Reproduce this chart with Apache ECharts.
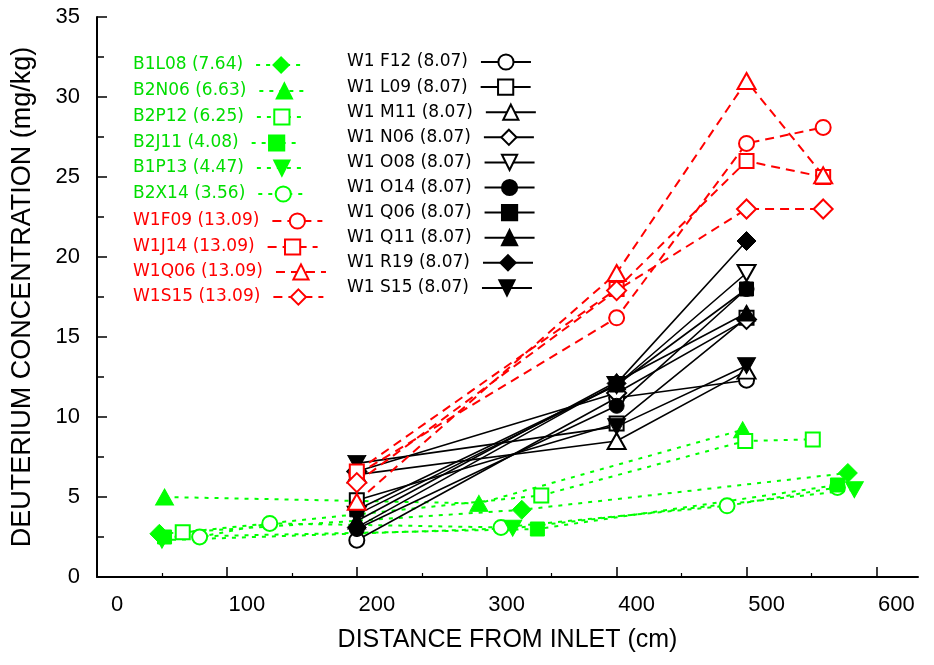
<!DOCTYPE html>
<html>
<head>
<meta charset="utf-8">
<script src="https://cdn.jsdelivr.net/npm/echarts@6/dist/echarts.min.js"></script>
<style>
  html, body { margin: 0; padding: 0; background: #fff; }
  #chart { width: 934px; height: 665px; }
</style>
</head>
<body>
<div id="chart"></div>
<script>
// ---- data: [distance from inlet (cm), deuterium concentration (mg/kg)] ----
// B-group cores (dotted green)
const B1L08 = [[48, 2.7], [327, 4.2], [578, 6.5]];
const B2N06 = [[52, 5.0], [294, 4.6], [497, 9.2]];
const B2P12 = [[66, 2.8], [342, 5.1], [499, 8.5], [551, 8.6]];
const B2J11 = [[52, 2.5], [339, 3.0], [570, 5.75]];
const B1P13 = [[50, 2.3], [320, 3.05], [583, 5.45]];
const B2X14 = [[79, 2.5], [133, 3.35], [311, 3.1], [485, 4.45], [570, 5.6]];
// W1 cores at 13.09 (dashed red)
const W1F09 = [[200, 6.4], [400, 16.2], [500, 27.1], [559, 28.1]];
const W1J14 = [[200, 6.6], [400, 18.0], [500, 26.0], [559, 25.0]];
const W1Q06 = [[200, 4.7], [400, 19.0], [500, 31.0], [559, 25.1]];
const W1S15 = [[200, 5.9], [400, 17.9], [500, 23.0], [559, 23.0]];
// W1 cores at 8.07 (solid black)
const W1_F12 = [[200, 2.3], [400, 11.2], [500, 12.3]];
const W1_L09 = [[200, 4.8], [400, 9.6], [500, 16.2]];
const W1_M11 = [[200, 6.4], [400, 8.5], [500, 12.9]];
const W1_N06 = [[200, 6.6], [400, 11.5], [500, 16.1]];
const W1_O08 = [[200, 3.9], [400, 12.0], [500, 19.0]];
const W1_O14 = [[200, 3.0], [400, 10.7], [500, 18.0]];
const W1_Q06 = [[200, 4.2], [400, 12.0], [500, 18.0]];
const W1_Q11 = [[200, 3.5], [400, 12.2], [500, 16.5]];
const W1_R19 = [[200, 3.1], [400, 12.1], [500, 21.0]];
const W1_S15 = [[200, 7.1], [400, 9.4], [500, 13.2]];

const xTickValues = [0, 100, 200, 300, 400, 500, 600];
const xMinorValues = [50, 150, 250, 350, 450, 550];
const yTickValues = [0, 5, 10, 15, 20, 25, 30, 35];
const yMinorValues = [2.5, 7.5, 12.5, 17.5, 22.5, 27.5, 32.5];

// ---- styling ----
const GREEN = '#00ff00';
const GREEN_TEXT = '#00dd00';
const RED = '#ff0000';
const BLACK = '#000000';
const TRI_DOWN = 'path://M0,0L20,0L10,17.32Z';

const SHAPES = {
  circle:   { symbol: 'circle',   size: 15 },
  square:   { symbol: 'rect',     size: 14 },
  triangle: { symbol: 'triangle', size: [18, 16] },
  diamond:  { symbol: 'diamond',  size: 19 },
  triDown:  { symbol: TRI_DOWN,   size: [18, 16] }
};

const DASH = {
  dotted: [4, 6],
  dashed: [9, 6],
  solid: 'solid'
};

function makeSeries(name, data, shape, filled, color, dash) {
  const s = SHAPES[shape];
  return {
    type: 'line',
    name: name,
    data: data,
    symbol: s.symbol,
    symbolSize: s.size,
    showSymbol: true,
    showAllSymbol: true,
    clip: false,
    animation: false,
    silent: true,
    lineStyle: { color: color, width: dash === 'solid' ? 1.6 : 2, type: DASH[dash] },
    itemStyle: filled
      ? { color: color, borderColor: color, borderWidth: 1 }
      : { color: '#ffffff', borderColor: color, borderWidth: 2 },
    emphasis: { disabled: true }
  };
}

const greenDefs = [
  ['B1L08 (7.64)', B1L08, 'diamond', true],
  ['B2N06 (6.63)', B2N06, 'triangle', true],
  ['B2P12 (6.25)', B2P12, 'square', false],
  ['B2J11 (4.08)', B2J11, 'square', true],
  ['B1P13 (4.47)', B1P13, 'triDown', true],
  ['B2X14 (3.56)', B2X14, 'circle', false]
];
const redDefs = [
  ['W1F09 (13.09)', W1F09, 'circle', false],
  ['W1J14 (13.09)', W1J14, 'square', false],
  ['W1Q06 (13.09)', W1Q06, 'triangle', false],
  ['W1S15 (13.09)', W1S15, 'diamond', false]
];
const blackDefs = [
  ['W1 F12 (8.07)', W1_F12, 'circle', false],
  ['W1 L09 (8.07)', W1_L09, 'square', false],
  ['W1 M11 (8.07)', W1_M11, 'triangle', false],
  ['W1 N06 (8.07)', W1_N06, 'diamond', false],
  ['W1 O08 (8.07)', W1_O08, 'triDown', false],
  ['W1 O14 (8.07)', W1_O14, 'circle', true],
  ['W1 Q06 (8.07)', W1_Q06, 'square', true],
  ['W1 Q11 (8.07)', W1_Q11, 'triangle', true],
  ['W1 R19 (8.07)', W1_R19, 'diamond', true],
  ['W1 S15 (8.07)', W1_S15, 'triDown', true]
];

// B2X14 goes underneath the other green marks where they meet at the far end
const greenDrawOrder = [greenDefs[5]].concat(greenDefs.slice(0, 5));

const series = []
  .concat(greenDrawOrder.map(d => makeSeries(d[0], d[1], d[2], d[3], GREEN, 'dotted')))
  .concat(blackDefs.map(d => makeSeries(d[0], d[1], d[2], d[3], BLACK, 'solid')))
  .concat(redDefs.map(d => makeSeries(d[0], d[1], d[2], d[3], RED, 'dashed')));

// one legend entry per block so each icon follows its own label
const ITEM_H = 19;
function legendEntry(name, color, left, centerY) {
  return {
    orient: 'vertical',
    align: 'right',
    left: left,
    top: centerY - ITEM_H / 2,
    padding: 0,
    itemWidth: 50,
    itemHeight: ITEM_H,
    selectedMode: false,
    data: [name],
    textStyle: {
      fontFamily: 'DejaVu Sans', fontSize: 17, lineHeight: 19,
      color: color, padding: [0, 8, 0, 0]
    }
  };
}

const leftRows = greenDefs.map(d => [d[0], GREEN_TEXT]).concat(redDefs.map(d => [d[0], RED]));
const leftCenters = [65, 91, 117, 143, 168, 194, 221, 247, 272, 297];
const legends = leftRows.map((r, i) => legendEntry(r[0], r[1], 133, leftCenters[i]))
  .concat(blackDefs.map((d, i) => legendEntry(d[0], '#000', 347, 62 + i * 25.1)));

const tickFont = { fontFamily: 'Liberation Sans', fontSize: 22, color: '#000' };

const option = {
  backgroundColor: '#ffffff',
  animation: false,
  grid: { left: 97, top: 17, right: 16, bottom: 88, containLabel: false, outerBoundsMode: 'none' },
  legend: legends,
  xAxis: [
    {
      type: 'value', min: 0, max: 632,
      name: 'DISTANCE FROM INLET (cm)', nameLocation: 'middle', nameGap: 51,
      nameTextStyle: { fontFamily: 'Liberation Sans', fontSize: 25, color: '#000' },
      splitLine: { show: false },
      axisLine: { show: true, onZero: false, lineStyle: { color: '#000', width: 2 } },
      axisTick: { show: true, inside: true, length: 10, customValues: xTickValues, lineStyle: { color: '#000', width: 1.5 } },
      axisLabel: {
        show: true, customValues: xTickValues, margin: 17, padding: [0, 0, 0, 40],
        formatter: v => (v % 100 === 0 ? String(v) : ''),
        ...tickFont
      }
    },
    {
      type: 'value', min: 0, max: 632, position: 'bottom',
      splitLine: { show: false },
      axisLine: { show: false },
      axisLabel: { show: false },
      axisTick: { show: true, inside: true, length: 4, customValues: xMinorValues, lineStyle: { color: '#000', width: 1.2 } }
    }
  ],
  yAxis: [
    {
      type: 'value', min: 0, max: 35, interval: 5,
      name: 'DEUTERIUM CONCENTRATION (mg/kg)', nameLocation: 'middle', nameGap: 61,
      nameTextStyle: { fontFamily: 'Liberation Sans', fontSize: 27, color: '#000' },
      splitLine: { show: false },
      axisLine: { show: true, onZero: false, lineStyle: { color: '#000', width: 2 } },
      axisTick: { show: true, inside: true, length: 10, customValues: yTickValues, lineStyle: { color: '#000', width: 1.5 } },
      axisLabel: { show: true, margin: 17, customValues: yTickValues, ...tickFont }
    },
    {
      type: 'value', min: 0, max: 35, position: 'left',
      splitLine: { show: false },
      axisLine: { show: false },
      axisLabel: { show: false },
      axisTick: { show: true, inside: true, length: 7, customValues: yMinorValues, lineStyle: { color: '#000', width: 1.5 } }
    }
  ],
  series: series
};

const chart = echarts.init(document.getElementById('chart'), null, { renderer: 'canvas' });
chart.setOption(option);
</script>
</body>
</html>
